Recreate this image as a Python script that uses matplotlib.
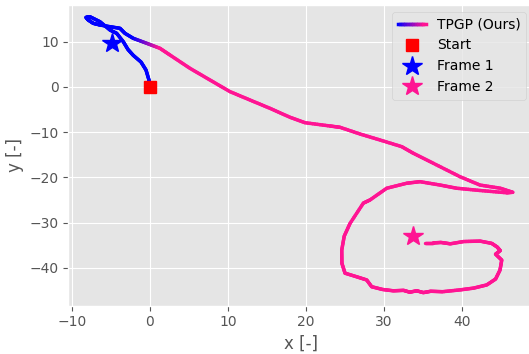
import numpy as np
import matplotlib
matplotlib.use('Agg')
import matplotlib.pyplot as plt
from matplotlib.collections import LineCollection
from matplotlib.colors import LinearSegmentedColormap
from matplotlib.legend_handler import HandlerLineCollection

# trajectory of the tracked point
traj_x = [0, -0.13, -0.51, -1.15, -2.14, -2.82, -3.42, -4.27, -5.13, -6.41,
          -7.69, -8.2, -7.91, -7.27, -6.41, -5.13, -3.85, -3.21, -2.14, -0.42,
          1.28, 2.56, 5.13, 7.69, 10.26, 12.82, 15.38, 17.95, 19.87, 23.08,
          24.36, 26.92, 29.49, 32.27, 33.76, 36.32, 39.74, 42.3, 44.9, 46.5,
          45.7, 42.3, 39.3, 37.2, 34.6, 32.9, 30.35, 28.2, 27.35, 25.64,
          24.9, 24.58, 24.6, 25.0, 26.5, 27.78, 28.42, 29.8, 31.19, 32.5,
          33.3, 34.2, 35.04, 36.0, 37.5, 39.74, 41.5, 43.17, 44.3, 44.87,
          45.09, 44.3, 44.9, 44.5, 43.8, 42.3, 40.2, 38.5, 37.3, 36.3, 35.3]
traj_y = [0, 1.55, 3.76, 5.53, 7.0, 8.3, 10.02, 11.88, 12.61, 14.45,
          15.55, 15.4, 14.82, 14.09, 13.72, 13.34, 12.99, 11.88, 10.77, 9.67,
          8.56, 7.08, 4.13, 1.55, -1.03, -2.88, -4.72, -6.7, -7.9, -8.63,
          -8.92, -10.4, -11.73, -13.2, -14.67, -16.88, -19.85, -21.7, -22.4, -23.3,
          -23.4, -22.9, -22.4, -21.7, -20.95, -21.3, -22.4, -25.0, -25.7, -30.2,
          -33.0, -36.1, -39.0, -41.2, -42.0, -42.7, -44.2, -44.8, -45.1, -45.0,
          -45.4, -45.1, -45.5, -45.2, -45.3, -44.9, -44.5, -43.8, -42.5, -40.5,
          -38.3, -37.0, -36.2, -35.4, -34.6, -34.1, -34.2, -34.7, -34.4, -34.5, -34.5]

start = (0, 0)
frame1 = (-4.9, 9.7)
frame2 = (33.7, -33.0)

cmap = LinearSegmentedColormap.from_list('blue_pink', ['blue', 'deeppink'])
LW = 2.5


class HandlerGradient(HandlerLineCollection):
    def create_artists(self, legend, orig_handle, xdescent, ydescent,
                       width, height, fontsize, trans):
        xs = np.linspace(-xdescent, -xdescent + width, 12)
        ys = np.full_like(xs, height / 2 - ydescent)
        pts = np.array([xs, ys]).T.reshape(-1, 1, 2)
        segs = np.concatenate([pts[:-1], pts[1:]], axis=1)
        lc = LineCollection(segs, cmap=cmap, transform=trans,
                            capstyle='projecting')
        lc.set_array(np.linspace(0, 1, len(segs)))
        lc.set_linewidth(LW)
        lc.set_snap(True)
        return [lc]


plt.style.use('ggplot')
fig = plt.figure(figsize=(5.29, 3.54), dpi=100)
ax = fig.add_axes([0.1291, 0.1364, 0.8785, 0.8494])

# split each step into short pieces so the colour fades smoothly
x = np.asarray(traj_x, float)
y = np.asarray(traj_y, float)
fx, fy = [], []
for i in range(len(x) - 1):
    fx.extend(np.linspace(x[i], x[i + 1], 10, endpoint=False))
    fy.extend(np.linspace(y[i], y[i + 1], 10, endpoint=False))
fx.append(x[-1])
fy.append(y[-1])
fx, fy = np.array(fx), np.array(fy)
s = np.concatenate([[0], np.cumsum(np.hypot(np.diff(fx), np.diff(fy)))])
s_idx = np.concatenate([[0], np.cumsum(np.hypot(np.diff(x), np.diff(y)))])
s0, s1 = s_idx[18], s_idx[20]
t = np.clip((s - s0) / (s1 - s0), 0, 1)

pts = np.array([fx, fy]).T.reshape(-1, 1, 2)
segs = np.concatenate([pts[:-1], pts[1:]], axis=1)
lc = LineCollection(segs, cmap=cmap, linewidth=LW, capstyle='round',
                    joinstyle='round', label='TPGP (Ours)', zorder=3)
lc.set_array((t[:-1] + t[1:]) / 2)
lc.set_clim(0, 1)
ax.add_collection(lc)

h_start, = ax.plot(*start, 's', color='red', ms=8, label='Start', zorder=4)
h_f1, = ax.plot(*frame1, '*', color='blue', ms=15, label='Frame 1', zorder=4)
h_f2, = ax.plot(*frame2, '*', color='deeppink', ms=15, label='Frame 2', zorder=4)

ax.set_xlim(-10.47, 49.1)
ax.set_ylim(-48.4, 18.14)
ax.set_xlabel('x [-]')
ax.set_ylabel('y [-]')

ax.legend([lc, h_start, h_f1, h_f2],
          ['TPGP (Ours)', 'Start', 'Frame 1', 'Frame 2'],
          handler_map={LineCollection: HandlerGradient()},
          loc='upper right')

fig.savefig('out.png', dpi=100)
